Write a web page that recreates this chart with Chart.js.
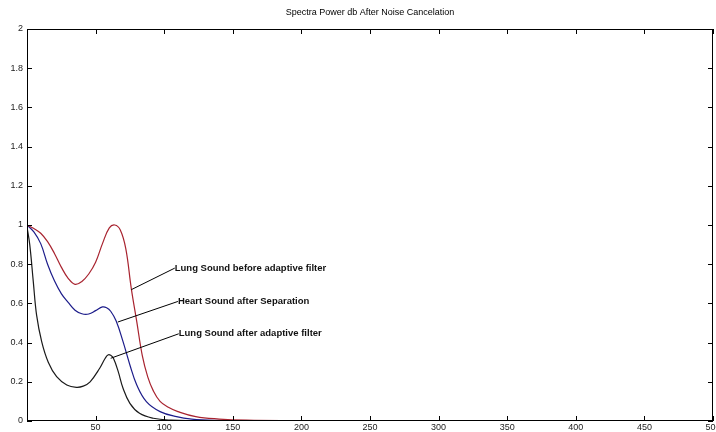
<!DOCTYPE html>
<html>
<head>
<meta charset="utf-8">
<script src="https://cdn.jsdelivr.net/npm/chart.js@4.4.1/dist/chart.umd.min.js"></script>
<style>
  html, body { margin: 0; padding: 0; background: #fff; }
  #wrap { width: 716px; height: 432px; }
</style>
</head>
<body>
<div id="wrap"><canvas id="spectraChart"></canvas></div>
<script>
// 차트 제목
const chartTitle = 'Spectra Power db After Noise Cancelation';

// 눈금
const xTicks = [50, 100, 150, 200, 250, 300, 350, 400, 450, 500];
const yTicks = [0, 0.2, 0.4, 0.6, 0.8, 1, 1.2, 1.4, 1.6, 1.8, 2];

// Lung Sound before adaptive filter (빨강)
const lungBeforeX = [0, 5, 10, 15, 20, 25, 30, 35, 40, 45, 50, 55, 60, 64, 68, 72, 76, 80, 84, 88, 92, 97, 103, 110, 123, 140, 160, 200];
const lungBeforeY = [1.0, 0.982, 0.958, 0.915, 0.855, 0.785, 0.728, 0.697, 0.712, 0.75, 0.81, 0.905, 0.985, 1.0, 0.975, 0.88, 0.677, 0.507, 0.335, 0.225, 0.155, 0.10, 0.07, 0.048, 0.022, 0.01, 0.004, 0.001];

// Heart Sound after Separation (파랑)
const heartX = [0, 5, 10, 15, 20, 25, 30, 35, 40, 45, 50, 55, 58, 61, 65, 70, 75, 80, 87, 97, 109, 120, 140, 160];
const heartY = [1.0, 0.965, 0.905, 0.80, 0.715, 0.65, 0.605, 0.565, 0.547, 0.546, 0.563, 0.582, 0.578, 0.56, 0.51, 0.405, 0.286, 0.184, 0.099, 0.048, 0.022, 0.01, 0.003, 0.001];

// Lung Sound after adaptive filter (검정)
const lungAfterX = [0, 2, 4.6, 7, 10.7, 15.5, 21.6, 29, 36, 41, 46, 53, 57, 59, 61, 63, 66.5, 70, 75, 82, 92, 105, 124];
const lungAfterY = [0.99, 0.90, 0.71, 0.54, 0.405, 0.30, 0.226, 0.184, 0.172, 0.178, 0.20, 0.269, 0.32, 0.337, 0.335, 0.32, 0.252, 0.167, 0.09, 0.039, 0.014, 0.004, 0.001];

// 주석 (곡선 위 지점 -> 글자 위치, 데이터 좌표)
const noteTexts = ['Lung Sound before adaptive filter', 'Heart Sound after Separation', 'Lung Sound after adaptive filter'];
const noteFromX = [76, 66.2, 61];
const noteFromY = [0.67, 0.505, 0.32];
const noteToX = [107.7, 110, 110.6];
const noteToY = [0.78, 0.61, 0.445];

const tickFont = '"Liberation Sans", Arial, sans-serif';

function toPoints(xs, ys) {
  return xs.map((x, i) => ({ x: x, y: ys[i] }));
}

// 매트랩 스타일: 테두리, 안쪽 눈금, 주석, 제목
const matlabStyle = {
  id: 'matlabStyle',
  afterDraw(chart) {
    const ctx = chart.ctx;
    const area = chart.chartArea;
    const xs = chart.scales.x;
    const ys = chart.scales.y;
    ctx.save();
    ctx.strokeStyle = '#000';
    ctx.lineWidth = 1;
    ctx.strokeRect(area.left + 0.5, area.top + 0.5, area.right - area.left - 1, area.bottom - area.top - 1);
    ctx.beginPath();
    xTicks.forEach(v => {
      const px = Math.round(xs.getPixelForValue(v)) + 0.5;
      ctx.moveTo(px, area.bottom); ctx.lineTo(px, area.bottom - 5);
      ctx.moveTo(px, area.top); ctx.lineTo(px, area.top + 5);
    });
    yTicks.forEach(v => {
      const py = Math.round(ys.getPixelForValue(v)) + 0.5;
      ctx.moveTo(area.left, py); ctx.lineTo(area.left + 5, py);
      ctx.moveTo(area.right, py); ctx.lineTo(area.right - 5, py);
    });
    ctx.stroke();

    // 주석
    ctx.font = 'bold 9.5px "Liberation Sans Narrow", "Liberation Sans", Arial, sans-serif';
    ctx.fillStyle = '#111';
    ctx.textBaseline = 'middle';
    ctx.textAlign = 'left';
    noteTexts.forEach((t, i) => {
      const x0 = xs.getPixelForValue(noteFromX[i]);
      const y0 = ys.getPixelForValue(noteFromY[i]);
      const x1 = xs.getPixelForValue(noteToX[i]);
      const y1 = ys.getPixelForValue(noteToY[i]);
      ctx.beginPath();
      ctx.moveTo(x0, y0);
      ctx.lineTo(x1, y1);
      ctx.stroke();
      ctx.fillText(t, x1, y1);
    });

    // 제목
    ctx.font = '9px ' + tickFont;
    ctx.textAlign = 'center';
    ctx.fillStyle = '#000';
    ctx.fillText(chartTitle, (area.left + area.right) / 2, 13);
    ctx.restore();
  }
};

const ctx = document.getElementById('spectraChart').getContext('2d');
new Chart(ctx, {
  type: 'line',
  data: {
    datasets: [
      { label: 'Lung Sound before adaptive filter', data: toPoints(lungBeforeX, lungBeforeY), borderColor: '#a8232f' },
      { label: 'Heart Sound after Separation', data: toPoints(heartX, heartY), borderColor: '#1c1c8a' },
      { label: 'Lung Sound after adaptive filter', data: toPoints(lungAfterX, lungAfterY), borderColor: '#1a1a1a' }
    ].map(d => Object.assign(d, {
      borderWidth: 1.2,
      pointRadius: 0,
      fill: false,
      tension: 0.4
    }))
  },
  options: {
    responsive: true,
    maintainAspectRatio: false,
    animation: false,
    layout: { padding: { top: 29, right: 3, left: 0, bottom: 0 } },
    plugins: {
      legend: { display: false },
      title: { display: false },
      tooltip: { enabled: false }
    },
    scales: {
      x: {
        type: 'linear',
        min: 0,
        max: 500,
        afterBuildTicks: s => { s.ticks = xTicks.map(v => ({ value: v })); },
        ticks: {
          color: '#222',
          font: { size: 9, family: tickFont },
          padding: 1,
          maxRotation: 0,
          autoSkip: false
        },
        grid: { display: false, drawTicks: false },
        border: { display: false },
        afterFit: s => { s.height = 11; s.paddingLeft = 0; s.paddingRight = 0; }
      },
      y: {
        min: 0,
        max: 2,
        afterBuildTicks: s => { s.ticks = yTicks.map(v => ({ value: v })); },
        ticks: {
          color: '#222',
          font: { size: 9, family: tickFont },
          padding: 4,
          callback: v => String(Math.round(v * 10) / 10)
        },
        grid: { display: false, drawTicks: false },
        border: { display: false },
        afterFit: s => { s.width = 27; s.paddingTop = 0; s.paddingBottom = 0; }
      }
    }
  },
  plugins: [matlabStyle]
});
</script>
</body>
</html>
